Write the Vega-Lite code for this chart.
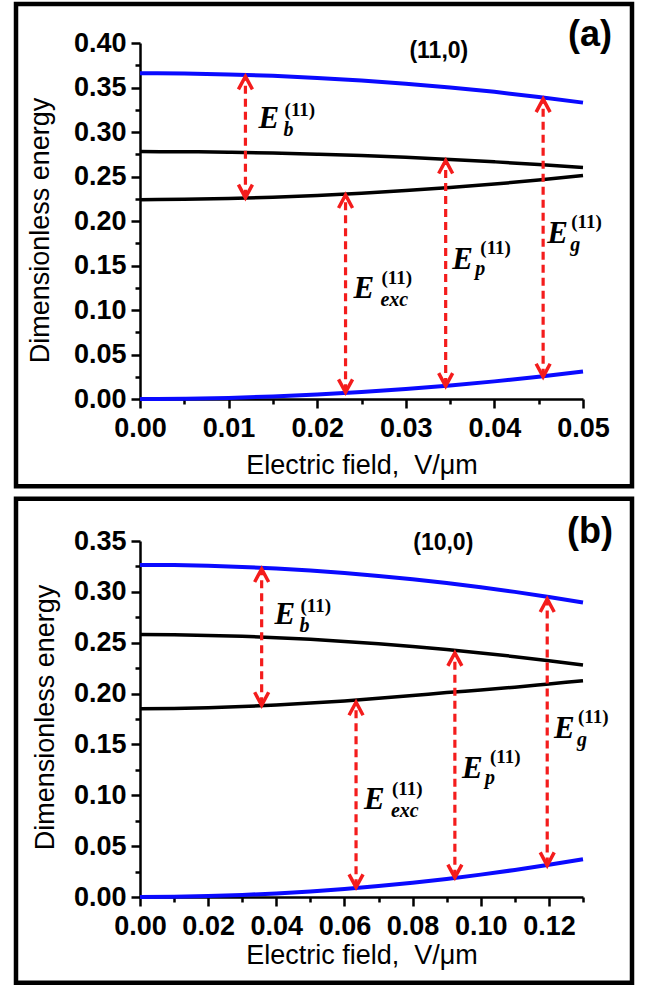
{
  "$schema": "https://vega.github.io/schema/vega-lite/v6.json",
  "background": "white",
  "padding": {"left": 13, "top": 1, "right": 18, "bottom": 6},
  "spacing": 142,
  "bounds": "flush",
  "config": {
    "view": {"stroke": null},
    "font": "Liberation Sans",
    "axis": {
      "grid": false,
      "domainColor": "black", "domainWidth": 2.5,
      "tickColor": "black", "tickWidth": 2.5,
      "labelFont": "Liberation Sans", "labelFontSize": 27, "labelFontWeight": "bold", "labelColor": "black",
      "labelFlush": false, "labelOverlap": false,
      "titleFont": "Liberation Sans", "titleFontSize": 27, "titleFontWeight": "normal", "titleColor": "black"
    }
  },
  "datasets": {
    "a_blue": [
      {"x":0,"e":0.366,"s":"top"},{"x":0.005,"e":0.3657,"s":"top"},{"x":0.01,"e":0.3647,"s":"top"},{"x":0.015,"e":0.3631,"s":"top"},{"x":0.02,"e":0.3608,"s":"top"},{"x":0.025,"e":0.3579,"s":"top"},{"x":0.03,"e":0.3543,"s":"top"},{"x":0.035,"e":0.35,"s":"top"},{"x":0.04,"e":0.3451,"s":"top"},{"x":0.045,"e":0.3394,"s":"top"},{"x":0.05,"e":0.333,"s":"top"},
      {"x":0,"e":0,"s":"bot"},{"x":0.005,"e":0.0003,"s":"bot"},{"x":0.01,"e":0.0012,"s":"bot"},{"x":0.015,"e":0.0028,"s":"bot"},{"x":0.02,"e":0.005,"s":"bot"},{"x":0.025,"e":0.0078,"s":"bot"},{"x":0.03,"e":0.0112,"s":"bot"},{"x":0.035,"e":0.0152,"s":"bot"},{"x":0.04,"e":0.0198,"s":"bot"},{"x":0.045,"e":0.0251,"s":"bot"},{"x":0.05,"e":0.031,"s":"bot"}
    ],
    "a_black": [
      {"x":0,"e":0.278,"s":"up"},{"x":0.005,"e":0.2778,"s":"up"},{"x":0.01,"e":0.2773,"s":"up"},{"x":0.015,"e":0.2764,"s":"up"},{"x":0.02,"e":0.2751,"s":"up"},{"x":0.025,"e":0.2735,"s":"up"},{"x":0.03,"e":0.2715,"s":"up"},{"x":0.035,"e":0.2692,"s":"up"},{"x":0.04,"e":0.2665,"s":"up"},{"x":0.045,"e":0.2635,"s":"up"},{"x":0.05,"e":0.26,"s":"up"},
      {"x":0,"e":0.224,"s":"low"},{"x":0.005,"e":0.2243,"s":"low"},{"x":0.01,"e":0.2252,"s":"low"},{"x":0.015,"e":0.2267,"s":"low"},{"x":0.02,"e":0.2287,"s":"low"},{"x":0.025,"e":0.2312,"s":"low"},{"x":0.03,"e":0.2342,"s":"low"},{"x":0.035,"e":0.2377,"s":"low"},{"x":0.04,"e":0.2415,"s":"low"},{"x":0.045,"e":0.246,"s":"low"},{"x":0.05,"e":0.251,"s":"low"}
    ],
    "a_arrows": [
      {"x":0.0119,"lo":0.2262,"hi":0.3625},
      {"x":0.0232,"lo":0.0075,"hi":0.2292},
      {"x":0.0345,"lo":0.0145,"hi":0.268},
      {"x":0.0455,"lo":0.025,"hi":0.337}
    ],
    "a_labels": [
      {"x":0.01338,"y":0.3048,"t":"E","k":"E"},{"x":0.01632,"y":0.3184,"t":"(11)","k":"sup"},{"x":0.0162,"y":0.2959,"t":"b","k":"sub"},
      {"x":0.02409,"y":0.1138,"t":"E","k":"E"},{"x":0.02725,"y":0.1296,"t":"(11)","k":"sup"},{"x":0.02714,"y":0.1049,"t":"exc","k":"sub"},
      {"x":0.03525,"y":0.1464,"t":"E","k":"E"},{"x":0.03841,"y":0.1633,"t":"(11)","k":"sup"},{"x":0.03785,"y":0.1397,"t":"p","k":"sub"},
      {"x":0.04596,"y":0.1756,"t":"E","k":"E"},{"x":0.04867,"y":0.1925,"t":"(11)","k":"sup"},{"x":0.04856,"y":0.1667,"t":"g","k":"sub"},
      {"x":0.03373,"y":0.3835,"t":"(11,0)","k":"tube"},
      {"x":0.05079,"y":0.397,"t":"(a)","k":"tag"}
    ],
    "b_blue": [
      {"x":0,"e":0.3265,"s":"top"},{"x":0.01,"e":0.3263,"s":"top"},{"x":0.02,"e":0.3256,"s":"top"},{"x":0.03,"e":0.3245,"s":"top"},{"x":0.04,"e":0.323,"s":"top"},{"x":0.05,"e":0.321,"s":"top"},{"x":0.06,"e":0.3185,"s":"top"},{"x":0.07,"e":0.3157,"s":"top"},{"x":0.08,"e":0.3124,"s":"top"},{"x":0.09,"e":0.3087,"s":"top"},{"x":0.1,"e":0.3046,"s":"top"},{"x":0.11,"e":0.3,"s":"top"},{"x":0.12,"e":0.295,"s":"top"},{"x":0.13,"e":0.2895,"s":"top"},
      {"x":0,"e":0,"s":"bot"},{"x":0.01,"e":0.0002,"s":"bot"},{"x":0.02,"e":0.0009,"s":"bot"},{"x":0.03,"e":0.002,"s":"bot"},{"x":0.04,"e":0.0035,"s":"bot"},{"x":0.05,"e":0.0055,"s":"bot"},{"x":0.06,"e":0.0079,"s":"bot"},{"x":0.07,"e":0.0108,"s":"bot"},{"x":0.08,"e":0.0141,"s":"bot"},{"x":0.09,"e":0.0178,"s":"bot"},{"x":0.1,"e":0.022,"s":"bot"},{"x":0.11,"e":0.0266,"s":"bot"},{"x":0.12,"e":0.0317,"s":"bot"},{"x":0.13,"e":0.0372,"s":"bot"}
    ],
    "b_black": [
      {"x":0,"e":0.258,"s":"up"},{"x":0.01,"e":0.2578,"s":"up"},{"x":0.02,"e":0.2572,"s":"up"},{"x":0.03,"e":0.2563,"s":"up"},{"x":0.04,"e":0.255,"s":"up"},{"x":0.05,"e":0.2533,"s":"up"},{"x":0.06,"e":0.2513,"s":"up"},{"x":0.07,"e":0.249,"s":"up"},{"x":0.08,"e":0.2463,"s":"up"},{"x":0.09,"e":0.2433,"s":"up"},{"x":0.1,"e":0.24,"s":"up"},{"x":0.11,"e":0.2363,"s":"up"},{"x":0.12,"e":0.2323,"s":"up"},{"x":0.13,"e":0.228,"s":"up"},
      {"x":0,"e":0.185,"s":"low"},{"x":0.01,"e":0.1853,"s":"low"},{"x":0.02,"e":0.186,"s":"low"},{"x":0.03,"e":0.1872,"s":"low"},{"x":0.04,"e":0.1888,"s":"low"},{"x":0.05,"e":0.1907,"s":"low"},{"x":0.06,"e":0.1928,"s":"low"},{"x":0.07,"e":0.1953,"s":"low"},{"x":0.08,"e":0.198,"s":"low"},{"x":0.09,"e":0.201,"s":"low"},{"x":0.1,"e":0.2035,"s":"low"},{"x":0.11,"e":0.2063,"s":"low"},{"x":0.12,"e":0.2095,"s":"low"},{"x":0.13,"e":0.2127,"s":"low"}
    ],
    "b_arrows": [
      {"x":0.0357,"lo":0.1885,"hi":0.3225},
      {"x":0.0634,"lo":0.0095,"hi":0.1915},
      {"x":0.0924,"lo":0.019,"hi":0.24},
      {"x":0.1195,"lo":0.031,"hi":0.293}
    ],
    "b_labels": [
      {"x":0.03947,"y":0.2687,"t":"E","k":"E"},{"x":0.0471,"y":0.2805,"t":"(11)","k":"sup"},{"x":0.0468,"y":0.2608,"t":"b","k":"sub"},
      {"x":0.06573,"y":0.0868,"t":"E","k":"E"},{"x":0.07394,"y":0.1006,"t":"(11)","k":"sup"},{"x":0.07365,"y":0.0789,"t":"exc","k":"sub"},
      {"x":0.09448,"y":0.1173,"t":"E","k":"E"},{"x":0.1027,"y":0.1321,"t":"(11)","k":"sup"},{"x":0.10123,"y":0.1114,"t":"p","k":"sub"},
      {"x":0.12148,"y":0.1566,"t":"E","k":"E"},{"x":0.12852,"y":0.1714,"t":"(11)","k":"sup"},{"x":0.12823,"y":0.1488,"t":"g","k":"sub"},
      {"x":0.089,"y":0.3415,"t":"(10,0)","k":"tube"},
      {"x":0.13205,"y":0.348,"t":"(b)","k":"tag"}
    ]
  },
  "vconcat": [
    {
      "width": 443, "height": 356,
      "resolve": {"axis": {"x": "independent", "y": "independent"}},
      "layer": [
        {
          "data": {"values": [{}]},
          "mark": {"type": "rect", "fill": "transparent", "stroke": "black", "strokeWidth": 4.5},
          "encoding": {
            "x": {"datum": -0.013995, "type": "quantitative", "scale": {"domain": [0, 0.05], "nice": false, "zero": false}, "axis": null},
            "x2": {"datum": 0.05553},
            "y": {"datum": 0.4438, "type": "quantitative", "scale": {"domain": [0, 0.4], "nice": false, "zero": false}, "axis": null},
            "y2": {"datum": -0.098}
          }
        },
        {
          "data": {"name": "a_blue"},
          "mark": {"type": "line", "color": "#0a0aff", "strokeWidth": 4, "interpolate": "monotone"},
          "encoding": {
            "x": {"field": "x", "type": "quantitative", "scale": {"domain": [0, 0.05], "nice": false, "zero": false},
                  "axis": {"orient": "bottom", "values": [0, 0.01, 0.02, 0.03, 0.04, 0.05], "format": ".2f", "tickSize": 9, "labelPadding": 7,
                           "title": "Electric field,\u00a0 V/μm", "titleY": 74, "titleBaseline": "alphabetic"}},
            "y": {"field": "e", "type": "quantitative", "scale": {"domain": [0, 0.4], "nice": false, "zero": false},
                  "axis": {"orient": "left", "values": [0, 0.05, 0.1, 0.15, 0.2, 0.25, 0.3, 0.35, 0.4], "format": ".2f", "tickSize": 9, "labelPadding": 5,
                           "title": "Dimensionless energy", "titleX": -92, "titleY": 187, "titleAngle": 270, "titleAlign": "center", "titleBaseline": "alphabetic"}},
            "detail": {"field": "s"}
          }
        },
        {
          "data": {"name": "a_black"},
          "mark": {"type": "line", "color": "black", "strokeWidth": 3.5, "interpolate": "monotone"},
          "encoding": {
            "x": {"field": "x", "type": "quantitative", "scale": {"domain": [0, 0.05], "nice": false, "zero": false}, "axis": null},
            "y": {"field": "e", "type": "quantitative", "scale": {"domain": [0, 0.4], "nice": false, "zero": false}, "axis": null},
            "detail": {"field": "s"}
          }
        },
        {
          "data": {"name": "a_arrows"},
          "mark": {"type": "rule", "color": "#f41c1c", "strokeWidth": 3.2, "strokeDash": [8, 5]},
          "encoding": {
            "x": {"field": "x", "type": "quantitative", "scale": {"domain": [0, 0.05], "nice": false, "zero": false},
                  "axis": {"orient": "bottom", "values": [0.005, 0.015, 0.025, 0.035, 0.045], "labels": false, "domain": false, "tickSize": 5, "title": null}},
            "y": {"field": "lo", "type": "quantitative", "scale": {"domain": [0, 0.4], "nice": false, "zero": false},
                  "axis": {"orient": "left", "values": [0.025, 0.075, 0.125, 0.175, 0.225, 0.275, 0.325, 0.375], "labels": false, "domain": false, "tickSize": 5, "title": null}},
            "y2": {"field": "hi"}
          }
        },
        {
          "data": {"name": "a_arrows"},
          "mark": {"type": "point", "shape": "M-0.5,0.93L0,0L0.5,0.93", "size": 784, "filled": false, "stroke": "#f41c1c", "strokeWidth": 3.5, "opacity": 1},
          "encoding": {
            "x": {"field": "x", "type": "quantitative", "scale": {"domain": [0, 0.05], "nice": false, "zero": false}, "axis": null},
            "y": {"field": "hi", "type": "quantitative", "scale": {"domain": [0, 0.4], "nice": false, "zero": false}, "axis": null}
          }
        },
        {
          "data": {"name": "a_arrows"},
          "mark": {"type": "point", "shape": "M-0.5,-0.93L0,0L0.5,-0.93", "size": 784, "filled": false, "stroke": "#f41c1c", "strokeWidth": 3.5, "opacity": 1},
          "encoding": {
            "x": {"field": "x", "type": "quantitative", "scale": {"domain": [0, 0.05], "nice": false, "zero": false}, "axis": null},
            "y": {"field": "lo", "type": "quantitative", "scale": {"domain": [0, 0.4], "nice": false, "zero": false}, "axis": null}
          }
        },
        {
          "data": {"name": "a_labels"},
          "transform": [{"filter": "datum.k == 'E'"}],
          "mark": {"type": "text", "font": "Liberation Serif", "fontStyle": "italic", "fontWeight": "bold", "fontSize": 31, "align": "left", "baseline": "alphabetic", "color": "black"},
          "encoding": {
            "x": {"field": "x", "type": "quantitative", "scale": {"domain": [0, 0.05], "nice": false, "zero": false}, "axis": null},
            "y": {"field": "y", "type": "quantitative", "scale": {"domain": [0, 0.4], "nice": false, "zero": false}, "axis": null},
            "text": {"field": "t"}
          }
        },
        {
          "data": {"name": "a_labels"},
          "transform": [{"filter": "datum.k == 'sup'"}],
          "mark": {"type": "text", "font": "Liberation Serif", "fontWeight": "bold", "fontSize": 19, "align": "left", "baseline": "alphabetic", "color": "black"},
          "encoding": {
            "x": {"field": "x", "type": "quantitative", "scale": {"domain": [0, 0.05], "nice": false, "zero": false}, "axis": null},
            "y": {"field": "y", "type": "quantitative", "scale": {"domain": [0, 0.4], "nice": false, "zero": false}, "axis": null},
            "text": {"field": "t"}
          }
        },
        {
          "data": {"name": "a_labels"},
          "transform": [{"filter": "datum.k == 'sub'"}],
          "mark": {"type": "text", "font": "Liberation Serif", "fontStyle": "italic", "fontWeight": "bold", "fontSize": 20, "align": "left", "baseline": "alphabetic", "color": "black"},
          "encoding": {
            "x": {"field": "x", "type": "quantitative", "scale": {"domain": [0, 0.05], "nice": false, "zero": false}, "axis": null},
            "y": {"field": "y", "type": "quantitative", "scale": {"domain": [0, 0.4], "nice": false, "zero": false}, "axis": null},
            "text": {"field": "t"}
          }
        },
        {
          "data": {"name": "a_labels"},
          "transform": [{"filter": "datum.k == 'tube'"}],
          "mark": {"type": "text", "font": "Liberation Sans", "fontWeight": "bold", "fontSize": 23, "align": "center", "baseline": "alphabetic", "color": "black"},
          "encoding": {
            "x": {"field": "x", "type": "quantitative", "scale": {"domain": [0, 0.05], "nice": false, "zero": false}, "axis": null},
            "y": {"field": "y", "type": "quantitative", "scale": {"domain": [0, 0.4], "nice": false, "zero": false}, "axis": null},
            "text": {"field": "t"}
          }
        },
        {
          "data": {"name": "a_labels"},
          "transform": [{"filter": "datum.k == 'tag'"}],
          "mark": {"type": "text", "font": "Liberation Sans", "fontWeight": "bold", "fontSize": 36, "align": "center", "baseline": "alphabetic", "color": "black"},
          "encoding": {
            "x": {"field": "x", "type": "quantitative", "scale": {"domain": [0, 0.05], "nice": false, "zero": false}, "axis": null},
            "y": {"field": "y", "type": "quantitative", "scale": {"domain": [0, 0.4], "nice": false, "zero": false}, "axis": null},
            "text": {"field": "t"}
          }
        }
      ]
    },
    {
      "width": 443, "height": 356,
      "resolve": {"axis": {"x": "independent", "y": "independent"}},
      "layer": [
        {
          "data": {"values": [{}]},
          "mark": {"type": "rect", "fill": "transparent", "stroke": "black", "strokeWidth": 4.5},
          "encoding": {
            "x": {"datum": -0.03639, "type": "quantitative", "scale": {"domain": [0, 0.13], "nice": false, "zero": false}, "axis": null},
            "x2": {"datum": 0.14438},
            "y": {"datum": 0.3916, "type": "quantitative", "scale": {"domain": [0, 0.35], "nice": false, "zero": false}, "axis": null},
            "y2": {"datum": -0.0843}
          }
        },
        {
          "data": {"name": "b_blue"},
          "mark": {"type": "line", "color": "#0a0aff", "strokeWidth": 4, "interpolate": "monotone"},
          "encoding": {
            "x": {"field": "x", "type": "quantitative", "scale": {"domain": [0, 0.13], "nice": false, "zero": false},
                  "axis": {"orient": "bottom", "values": [0, 0.02, 0.04, 0.06, 0.08, 0.1, 0.12], "format": ".2f", "tickSize": 9, "labelPadding": 7,
                           "title": "Electric field,\u00a0 V/μm", "titleY": 66, "titleBaseline": "alphabetic"}},
            "y": {"field": "e", "type": "quantitative", "scale": {"domain": [0, 0.35], "nice": false, "zero": false},
                  "axis": {"orient": "left", "values": [0, 0.05, 0.1, 0.15, 0.2, 0.25, 0.3, 0.35], "format": ".2f", "tickSize": 9, "labelPadding": 5,
                           "title": "Dimensionless energy", "titleX": -87, "titleY": 176, "titleAngle": 270, "titleAlign": "center", "titleBaseline": "alphabetic"}},
            "detail": {"field": "s"}
          }
        },
        {
          "data": {"name": "b_black"},
          "mark": {"type": "line", "color": "black", "strokeWidth": 3.5, "interpolate": "monotone"},
          "encoding": {
            "x": {"field": "x", "type": "quantitative", "scale": {"domain": [0, 0.13], "nice": false, "zero": false}, "axis": null},
            "y": {"field": "e", "type": "quantitative", "scale": {"domain": [0, 0.35], "nice": false, "zero": false}, "axis": null},
            "detail": {"field": "s"}
          }
        },
        {
          "data": {"name": "b_arrows"},
          "mark": {"type": "rule", "color": "#f41c1c", "strokeWidth": 3.2, "strokeDash": [8, 5]},
          "encoding": {
            "x": {"field": "x", "type": "quantitative", "scale": {"domain": [0, 0.13], "nice": false, "zero": false},
                  "axis": {"orient": "bottom", "values": [0.01, 0.03, 0.05, 0.07, 0.09, 0.11, 0.13], "labels": false, "domain": false, "tickSize": 5, "title": null}},
            "y": {"field": "lo", "type": "quantitative", "scale": {"domain": [0, 0.35], "nice": false, "zero": false},
                  "axis": {"orient": "left", "values": [0.025, 0.075, 0.125, 0.175, 0.225, 0.275, 0.325], "labels": false, "domain": false, "tickSize": 5, "title": null}},
            "y2": {"field": "hi"}
          }
        },
        {
          "data": {"name": "b_arrows"},
          "mark": {"type": "point", "shape": "M-0.5,0.93L0,0L0.5,0.93", "size": 784, "filled": false, "stroke": "#f41c1c", "strokeWidth": 3.5, "opacity": 1},
          "encoding": {
            "x": {"field": "x", "type": "quantitative", "scale": {"domain": [0, 0.13], "nice": false, "zero": false}, "axis": null},
            "y": {"field": "hi", "type": "quantitative", "scale": {"domain": [0, 0.35], "nice": false, "zero": false}, "axis": null}
          }
        },
        {
          "data": {"name": "b_arrows"},
          "mark": {"type": "point", "shape": "M-0.5,-0.93L0,0L0.5,-0.93", "size": 784, "filled": false, "stroke": "#f41c1c", "strokeWidth": 3.5, "opacity": 1},
          "encoding": {
            "x": {"field": "x", "type": "quantitative", "scale": {"domain": [0, 0.13], "nice": false, "zero": false}, "axis": null},
            "y": {"field": "lo", "type": "quantitative", "scale": {"domain": [0, 0.35], "nice": false, "zero": false}, "axis": null}
          }
        },
        {
          "data": {"name": "b_labels"},
          "transform": [{"filter": "datum.k == 'E'"}],
          "mark": {"type": "text", "font": "Liberation Serif", "fontStyle": "italic", "fontWeight": "bold", "fontSize": 31, "align": "left", "baseline": "alphabetic", "color": "black"},
          "encoding": {
            "x": {"field": "x", "type": "quantitative", "scale": {"domain": [0, 0.13], "nice": false, "zero": false}, "axis": null},
            "y": {"field": "y", "type": "quantitative", "scale": {"domain": [0, 0.35], "nice": false, "zero": false}, "axis": null},
            "text": {"field": "t"}
          }
        },
        {
          "data": {"name": "b_labels"},
          "transform": [{"filter": "datum.k == 'sup'"}],
          "mark": {"type": "text", "font": "Liberation Serif", "fontWeight": "bold", "fontSize": 19, "align": "left", "baseline": "alphabetic", "color": "black"},
          "encoding": {
            "x": {"field": "x", "type": "quantitative", "scale": {"domain": [0, 0.13], "nice": false, "zero": false}, "axis": null},
            "y": {"field": "y", "type": "quantitative", "scale": {"domain": [0, 0.35], "nice": false, "zero": false}, "axis": null},
            "text": {"field": "t"}
          }
        },
        {
          "data": {"name": "b_labels"},
          "transform": [{"filter": "datum.k == 'sub'"}],
          "mark": {"type": "text", "font": "Liberation Serif", "fontStyle": "italic", "fontWeight": "bold", "fontSize": 20, "align": "left", "baseline": "alphabetic", "color": "black"},
          "encoding": {
            "x": {"field": "x", "type": "quantitative", "scale": {"domain": [0, 0.13], "nice": false, "zero": false}, "axis": null},
            "y": {"field": "y", "type": "quantitative", "scale": {"domain": [0, 0.35], "nice": false, "zero": false}, "axis": null},
            "text": {"field": "t"}
          }
        },
        {
          "data": {"name": "b_labels"},
          "transform": [{"filter": "datum.k == 'tube'"}],
          "mark": {"type": "text", "font": "Liberation Sans", "fontWeight": "bold", "fontSize": 23, "align": "center", "baseline": "alphabetic", "color": "black"},
          "encoding": {
            "x": {"field": "x", "type": "quantitative", "scale": {"domain": [0, 0.13], "nice": false, "zero": false}, "axis": null},
            "y": {"field": "y", "type": "quantitative", "scale": {"domain": [0, 0.35], "nice": false, "zero": false}, "axis": null},
            "text": {"field": "t"}
          }
        },
        {
          "data": {"name": "b_labels"},
          "transform": [{"filter": "datum.k == 'tag'"}],
          "mark": {"type": "text", "font": "Liberation Sans", "fontWeight": "bold", "fontSize": 36, "align": "center", "baseline": "alphabetic", "color": "black"},
          "encoding": {
            "x": {"field": "x", "type": "quantitative", "scale": {"domain": [0, 0.13], "nice": false, "zero": false}, "axis": null},
            "y": {"field": "y", "type": "quantitative", "scale": {"domain": [0, 0.35], "nice": false, "zero": false}, "axis": null},
            "text": {"field": "t"}
          }
        }
      ]
    }
  ]
}
